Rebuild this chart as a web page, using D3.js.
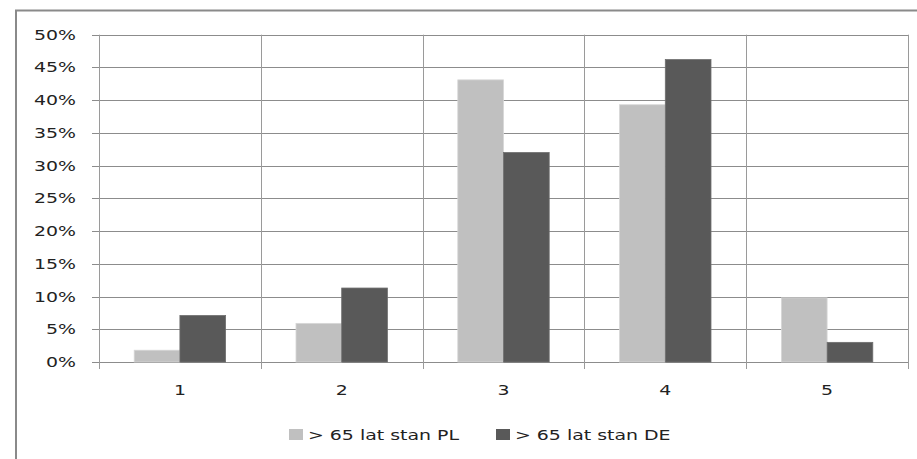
<!DOCTYPE html>
<html><head><meta charset="utf-8">
<script src="https://cdn.jsdelivr.net/npm/d3@7"></script>
<style>html,body{margin:0;padding:0;background:#fff;overflow:hidden}svg{display:block}</style>
</head><body>
<script>
const categories = ["1", "2", "3", "4", "5"];
const seriesNames = ["> 65 lat stan PL", "> 65 lat stan DE"];
const plValues = [1.8, 5.9, 43.1, 39.3, 9.8];
const deValues = [7.1, 11.3, 32.0, 46.2, 3.0];
const yTicks = [0, 5, 10, 15, 20, 25, 30, 35, 40, 45, 50];
const colors = ["#c0c0c0", "#595959"];

(function () {
const W = 917, H = 459;
const pLeft = 99, pRight = 908, pTop = 34.7, pBottom = 362;
const SX = 1.37; // horizontal text stretch of the reference
const font = "DejaVu Sans, Verdana, sans-serif";

const svg = d3.select("body").append("svg").attr("width", W).attr("height", H);

// outer chart frame (cropped on right/bottom)
svg.append("path").attr("d", `M16,${H} L16,10.5 L${W},10.5`)
  .attr("fill", "none").attr("stroke", "#8a8a8a").attr("stroke-width", 2);

const x = d3.scaleBand().domain(categories).range([pLeft, pRight]).paddingInner(0).paddingOuter(0);
const y = d3.scaleLinear().domain([0, 50]).range([pBottom, pTop]);

const g = svg.append("g");

// horizontal gridlines
g.selectAll("line.hg").data(yTicks).join("line")
  .attr("x1", pLeft - 7).attr("x2", pRight)
  .attr("y1", d => Math.round(y(d)) + 0.5).attr("y2", d => Math.round(y(d)) + 0.5)
  .attr("stroke", "#8c8c8c").attr("stroke-width", 1);

// vertical gridlines at category boundaries
const bounds = categories.map(c => x(c)).concat([pRight]);
g.selectAll("line.vg").data(bounds).join("line")
  .attr("x1", d => Math.round(d) + 0.5).attr("x2", d => Math.round(d) + 0.5)
  .attr("y1", pTop).attr("y2", pBottom + 7)
  .attr("stroke", "#9a9a9a").attr("stroke-width", 1);

// bars
const bw = 45.7;
const inner = d3.scaleBand().domain([0, 1]).range([0, bw * 2]);
const data = categories.map((c, i) => ({ c, v: [plValues[i], deValues[i]] }));
const cg = g.selectAll("g.cat").data(data).join("g")
  .attr("transform", d => `translate(${x(d.c) + (x.bandwidth() - bw * 2) / 2},0)`);
cg.selectAll("rect").data(d => d.v.map((v, k) => ({ v, k }))).join("rect")
  .attr("x", d => inner(d.k))
  .attr("y", d => y(d.v))
  .attr("width", inner.bandwidth())
  .attr("height", d => pBottom - y(d.v))
  .attr("fill", d => colors[d.k])
  .attr("stroke", d => d.k === 0 ? "#d6d6d6" : "#6e6e6e")
  .attr("stroke-width", 0.8);

// y tick labels
svg.selectAll("text.yl").data(yTicks).join("text")
  .attr("transform", d => `translate(76,${y(d) + 5}) scale(${SX},1)`)
  .attr("text-anchor", "end")
  .attr("font-family", font).attr("font-size", 13.8).attr("fill", "#222")
  .text(d => d + "%");

// x labels
svg.selectAll("text.xl").data(categories).join("text")
  .attr("transform", d => `translate(${x(d) + x.bandwidth() / 2},${395}) scale(${SX},1)`)
  .attr("text-anchor", "middle")
  .attr("font-family", font).attr("font-size", 13.8).attr("fill", "#222")
  .text(d => d);

// legend
const legX = [289, 496];
const lg = svg.selectAll("g.leg").data(seriesNames).join("g")
  .attr("transform", (d, i) => `translate(${legX[i]},429)`);
lg.append("rect").attr("x", 0).attr("y", 0).attr("width", 14).attr("height", 11)
  .attr("fill", (d, i) => colors[i]);
lg.append("text")
  .attr("transform", `translate(19,11) scale(${SX},1)`)
  .attr("font-family", font).attr("font-size", 13.8).attr("fill", "#222")
  .text(d => d);
})();
</script>
</body></html>
